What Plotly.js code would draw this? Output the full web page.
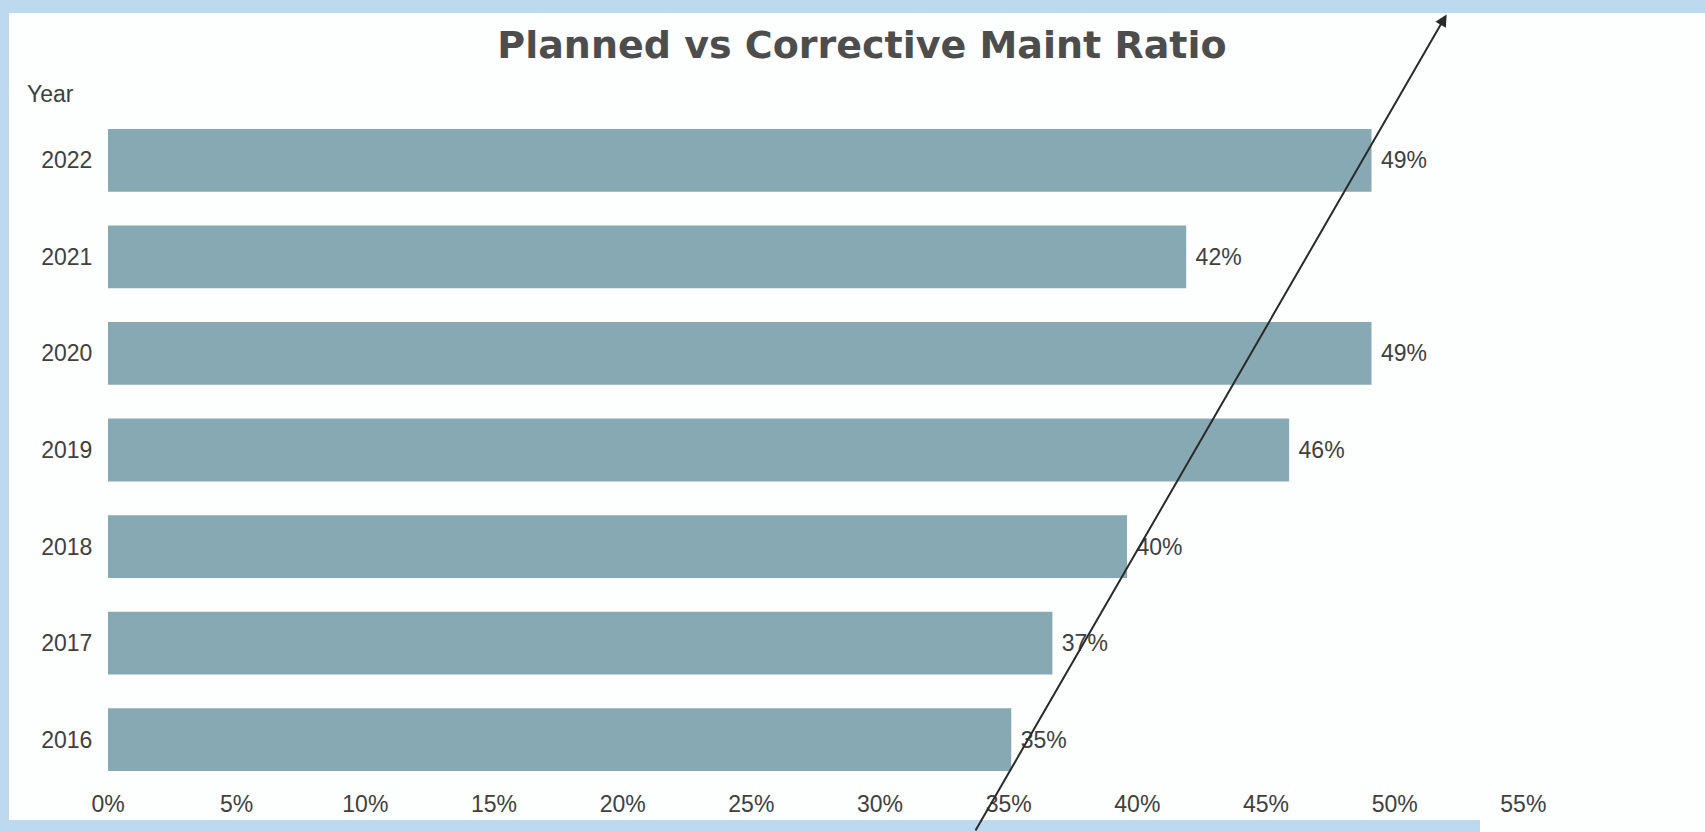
<!DOCTYPE html>
<html>
<head>
<meta charset="utf-8">
<script src="https://cdn.plot.ly/plotly-3.0.1.min.js"></script>
<style>
  html, body { margin: 0; padding: 0; background: #ffffff; overflow: hidden; }
  #wrap { position: relative; width: 1705px; height: 832px; background: #fdfefe; }
  .edge { position: absolute; background: #bcd9ef; }
  #chart { position: absolute; left: 0; top: 0; width: 1705px; height: 832px; }
</style>
</head>
<body>
<div id="wrap">
  <div class="edge" style="left:0;top:0;width:1705px;height:13px;"></div>
  <div class="edge" style="left:0;top:0;width:9px;height:832px;"></div>
  <div class="edge" style="left:0;top:820px;width:1480px;height:12px;"></div>
  <div id="chart"></div>
</div>
<script>
// Data
const years = ['2016', '2017', '2018', '2019', '2020', '2021', '2022'];
const ratio = [0.351, 0.367, 0.396, 0.459, 0.491, 0.419, 0.491];
const xTickValues = [0, 0.05, 0.10, 0.15, 0.20, 0.25, 0.30, 0.35, 0.40, 0.45, 0.50, 0.55];
const xTickLabels = ['0%', '5%', '10%', '15%', '20%', '25%', '30%', '35%', '40%', '45%', '50%', '55%'];

const W = 1705, H = 832;
const M = { l: 107.5, r: 52.5, t: 111.7, b: 43.7 };
const plotW = W - M.l - M.r, plotH = H - M.t - M.b;
const px2x = p => (p - M.l) / plotW;
const px2y = p => (H - M.b - p) / plotH;

const labelFont = "'Liberation Sans', Arial, sans-serif";
const textColor = '#404040';

const trace = {
  type: 'bar',
  orientation: 'h',
  y: years,
  x: ratio,
  marker: { color: '#87a9b3', line: { width: 0 } },
  texttemplate: '\u00a0%{x:.0%}',
  textposition: 'outside',
  cliponaxis: false,
  constraintext: 'none',
  textfont: { family: labelFont, size: 23, color: textColor },
  hoverinfo: 'skip'
};

const layout = {
  width: W, height: H,
  margin: M,
  paper_bgcolor: 'rgba(0,0,0,0)',
  plot_bgcolor: 'rgba(0,0,0,0)',
  showlegend: false,
  bargap: 0.35,
  title: {
    text: 'Planned vs Corrective Maint Ratio',
    font: { family: "'DejaVu Sans', Verdana, sans-serif", size: 38, color: '#4d4d4d', weight: 'bold' },
    xref: 'container', x: 862 / W, xanchor: 'center',
    yref: 'container', y: 1 - 45 / H, yanchor: 'middle'
  },
  xaxis: {
    range: [0, 0.6],
    tickvals: xTickValues,
    ticktext: xTickLabels,
    showgrid: false, zeroline: false, showline: false,
    ticks: '',
    tickfont: { family: labelFont, size: 23, color: textColor },
    fixedrange: true
  },
  yaxis: {
    type: 'category',
    categoryorder: 'array',
    categoryarray: years,
    range: [-0.5, 6.5],
    showgrid: false, zeroline: false, showline: false,
    ticks: 'outside', ticklen: 10, tickcolor: 'rgba(0,0,0,0)',
    tickfont: { family: labelFont, size: 23, color: textColor },
    fixedrange: true
  },
  annotations: [
    {
      text: 'Year', showarrow: false,
      xref: 'paper', yref: 'paper',
      x: px2x(24), y: px2y(94), xanchor: 'left', yanchor: 'middle',
      font: { family: labelFont, size: 23, color: textColor }
    },
    {
      text: '', showarrow: true,
      xref: 'paper', yref: 'paper',
      x: px2x(1447), y: px2y(14),
      axref: 'pixel', ayref: 'pixel',
      ax: 975 - 1447, ay: 832 - 14,
      arrowcolor: '#2a2a2a', arrowwidth: 2, arrowhead: 2, arrowsize: 1.2,
      standoff: 0, startstandoff: 0
    }
  ]
};

Plotly.newPlot('chart', [trace], layout, { staticPlot: true, displayModeBar: false });
</script>
</body>
</html>
